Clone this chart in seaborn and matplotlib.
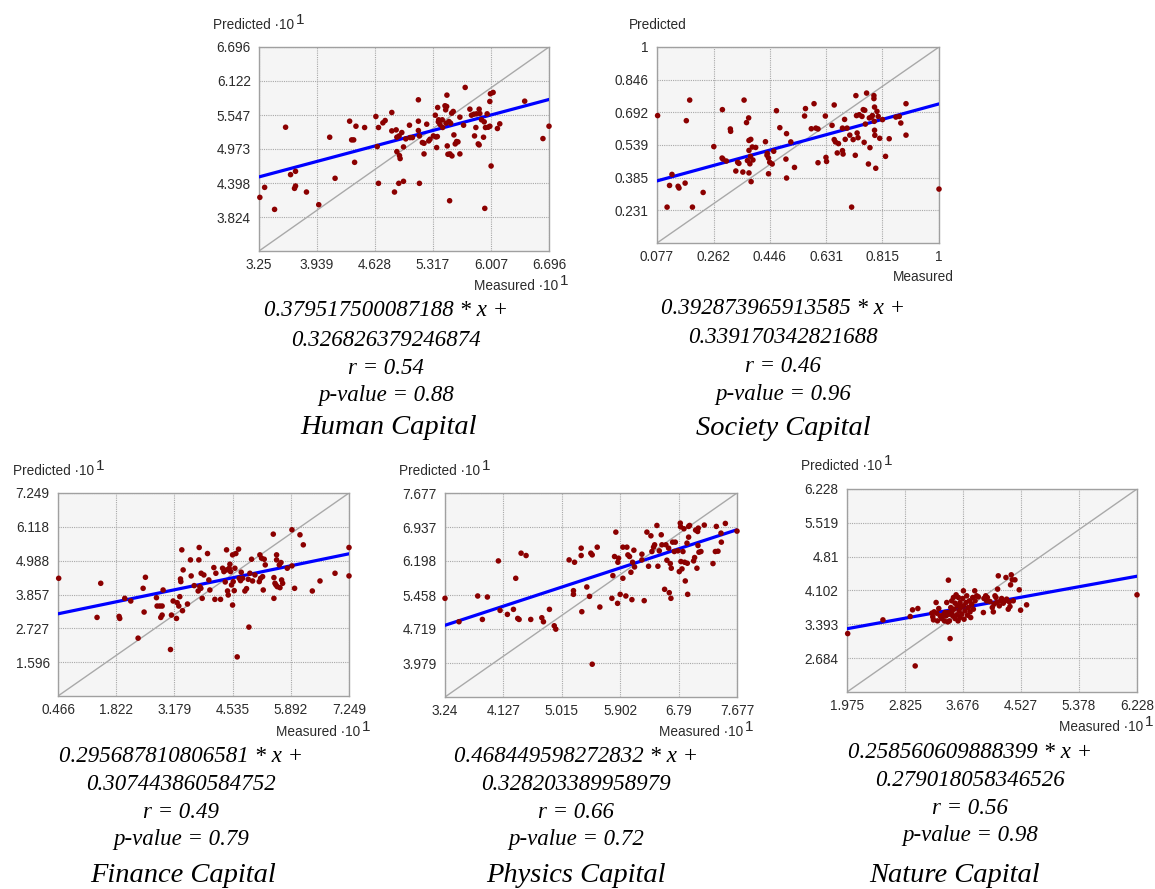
import matplotlib
matplotlib.use("Agg")
import matplotlib.pyplot as plt
import seaborn as sns
import numpy as np
import pandas as pd

# ---------------- data ----------------
panel_titles = ["Human Capital", "Society Capital", "Finance Capital",
                "Physics Capital", "Nature Capital"]
slopes = ["0.379517500087188", "0.392873965913585", "0.295687810806581",
          "0.468449598272832", "0.258560609888399"]
intercepts = ["0.326826379246874", "0.339170342821688", "0.307443860584752",
              "0.328203389958979", "0.279018058346526"]
r_values = ["0.54", "0.46", "0.49", "0.66", "0.56"]
p_values = ["0.88", "0.96", "0.79", "0.72", "0.98"]
scale_exp = [1, 0, 1, 1, 1]  # axes shown as value * 10^exp

human_xticks = ["3.25", "3.939", "4.628", "5.317", "6.007", "6.696"]
human_yticks = ["3.824", "4.398", "4.973", "5.547", "6.122", "6.696"]
society_xticks = ["0.077", "0.262", "0.446", "0.631", "0.815", "1"]
society_yticks = ["0.231", "0.385", "0.539", "0.692", "0.846", "1"]
finance_xticks = ["0.466", "1.822", "3.179", "4.535", "5.892", "7.249"]
finance_yticks = ["1.596", "2.727", "3.857", "4.988", "6.118", "7.249"]
physics_xticks = ["3.24", "4.127", "5.015", "5.902", "6.79", "7.677"]
physics_yticks = ["3.979", "4.719", "5.458", "6.198", "6.937", "7.677"]
nature_xticks = ["1.975", "2.825", "3.676", "4.527", "5.378", "6.228"]
nature_yticks = ["2.684", "3.393", "4.102", "4.81", "5.519", "6.228"]

human_points = [
    (3.26, 4.156), (3.317, 4.325), (3.435, 3.953), (3.566, 5.341), (3.625, 4.540),
    (3.684, 4.596), (3.672, 4.308), (3.684, 4.348), (3.814, 4.246), (3.96, 4.032),
    (4.09, 5.172), (4.154, 4.478), (4.327, 5.443), (4.351, 5.127), (4.375, 5.127),
    (4.386, 4.748), (4.402, 5.358), (4.505, 5.336), (4.639, 5.522), (4.655, 5.014),
    (4.67, 5.336), (4.67, 4.393), (4.722, 5.415), (4.749, 5.454), (4.828, 5.59),
    (4.828, 5.279), (4.86, 4.246), (4.88, 5.296), (4.888, 5.172), (4.888, 4.929),
    (4.911, 4.393), (4.915, 5.194), (4.919, 4.861), (4.927, 4.811), (4.947, 5.251),
    (4.967, 4.427), (4.967, 5.008), (4.994, 5.144), (5.038, 5.375), (5.045, 5.166),
    (5.073, 5.166), (5.144, 5.804), (5.144, 5.443), (5.144, 5.285), (5.156, 5.194),
    (5.156, 4.393), (5.191, 5.082), (5.211, 4.89), (5.211, 5.07), (5.243, 5.392),
    (5.267, 5.11), (5.282, 5.138), (5.322, 5.194), (5.345, 5.544), (5.353, 5.177),
    (5.361, 4.997), (5.369, 5.183), (5.373, 5.674), (5.381, 5.432), (5.385, 5.466),
    (5.401, 5.387), (5.428, 5.466), (5.432, 5.336), (5.46, 5.703), (5.468, 5.635),
    (5.472, 5.409), (5.48, 5.691), (5.483, 5.883), (5.487, 5.025), (5.495, 4.884),
    (5.507, 5.437), (5.515, 4.099), (5.519, 4.89), (5.527, 5.409), (5.539, 5.578),
    (5.543, 4.856), (5.558, 5.607), (5.566, 5.211), (5.582, 5.059), (5.598, 5.099),
    (5.614, 5.093), (5.637, 4.89), (5.637, 5.511), (5.681, 5.375), (5.7, 6.013),
    (5.756, 5.646), (5.775, 5.544), (5.803, 5.561), (5.811, 5.194), (5.827, 5.336),
    (5.835, 5.567), (5.855, 5.059), (5.866, 5.646), (5.866, 5.042), (5.874, 5.573),
    (5.894, 5.466), (5.918, 5.172), (5.926, 5.432), (5.933, 3.97), (5.941, 5.336),
    (5.961, 5.567), (5.973, 5.341), (5.993, 5.358), (5.993, 5.776), (6.0, 5.906),
    (6.008, 4.686), (6.032, 5.928), (6.083, 5.319), (6.111, 5.398), (6.407, 5.781),
    (6.624, 5.149), (6.696, 5.358),
]

society_points = [
    (0.079, 0.677), (0.110, 0.246), (0.118, 0.348), (0.126, 0.400), (0.146, 0.344),
    (0.149, 0.336), (0.169, 0.359), (0.173, 0.653), (0.184, 0.750), (0.193, 0.246),
    (0.228, 0.315), (0.263, 0.531), (0.290, 0.477), (0.291, 0.705), (0.293, 0.472),
    (0.304, 0.463), (0.317, 0.614), (0.318, 0.603), (0.335, 0.416), (0.341, 0.457),
    (0.345, 0.452), (0.358, 0.411), (0.362, 0.750), (0.370, 0.644), (0.373, 0.465),
    (0.377, 0.666), (0.378, 0.513), (0.378, 0.560), (0.378, 0.407), (0.381, 0.450),
    (0.383, 0.485), (0.384, 0.565), (0.385, 0.366), (0.389, 0.529), (0.391, 0.468),
    (0.400, 0.527), (0.432, 0.554), (0.437, 0.490), (0.438, 0.499), (0.442, 0.477),
    (0.442, 0.403), (0.446, 0.457), (0.454, 0.449), (0.459, 0.509), (0.468, 0.700),
    (0.479, 0.620), (0.499, 0.472), (0.501, 0.592), (0.501, 0.383), (0.515, 0.553),
    (0.527, 0.433), (0.560, 0.675), (0.563, 0.710), (0.582, 0.615), (0.591, 0.733),
    (0.597, 0.618), (0.604, 0.614), (0.604, 0.455), (0.628, 0.675), (0.630, 0.480),
    (0.632, 0.461), (0.650, 0.631), (0.657, 0.727), (0.657, 0.564), (0.661, 0.553),
    (0.667, 0.501), (0.671, 0.545), (0.684, 0.512), (0.684, 0.618), (0.686, 0.496),
    (0.691, 0.659), (0.693, 0.565), (0.699, 0.618), (0.708, 0.585), (0.714, 0.246),
    (0.719, 0.564), (0.726, 0.490), (0.728, 0.771), (0.730, 0.677), (0.732, 0.595),
    (0.735, 0.573), (0.739, 0.681), (0.748, 0.673), (0.752, 0.705), (0.755, 0.551),
    (0.757, 0.702), (0.759, 0.637), (0.763, 0.783), (0.769, 0.449), (0.772, 0.666),
    (0.774, 0.526), (0.779, 0.670), (0.782, 0.677), (0.787, 0.771), (0.787, 0.757),
    (0.789, 0.717), (0.788, 0.650), (0.789, 0.608), (0.790, 0.584), (0.793, 0.429),
    (0.797, 0.697), (0.801, 0.673), (0.806, 0.570), (0.815, 0.658), (0.825, 0.485),
    (0.837, 0.568), (0.859, 0.670), (0.870, 0.673), (0.875, 0.642), (0.892, 0.733),
    (0.892, 0.585), (1.0, 0.331),
]

finance_points = [
    (0.482, 4.399), (1.376, 3.092), (1.462, 4.232), (1.890, 3.125), (1.905, 3.058),
    (2.022, 3.729), (2.162, 3.640), (2.333, 2.399), (2.450, 4.064), (2.473, 3.271),
    (2.504, 4.433), (2.761, 3.751), (2.776, 3.472), (2.839, 3.472), (2.862, 3.092),
    (2.893, 3.170), (2.916, 4.008), (2.893, 3.472), (3.088, 2.019), (3.111, 3.170),
    (3.150, 3.640), (3.228, 3.058), (3.243, 3.584), (3.282, 3.472), (3.305, 3.785),
    (3.321, 4.377), (3.329, 4.288), (3.352, 5.349), (3.368, 3.316), (3.383, 4.679),
    (3.484, 3.539), (3.554, 5.014), (3.570, 4.478), (3.640, 4.154), (3.749, 5.014),
    (3.757, 5.428), (3.733, 3.975), (3.772, 4.120), (3.796, 4.064), (3.803, 4.567),
    (3.827, 3.729), (3.866, 4.511), (3.951, 5.226), (3.982, 4.344), (4.006, 4.008),
    (4.099, 4.757), (4.123, 3.695), (4.146, 4.567), (4.255, 3.695), (4.302, 4.735),
    (4.333, 4.623), (4.364, 4.276), (4.395, 5.349), (4.395, 4.679), (4.418, 3.975),
    (4.434, 3.841), (4.457, 4.735), (4.473, 4.869), (4.488, 4.623), (4.511, 4.176),
    (4.535, 5.182), (4.535, 3.505), (4.550, 4.288), (4.574, 3.986), (4.589, 4.735),
    (4.612, 5.226), (4.643, 1.773), (4.675, 5.372), (4.690, 4.399), (4.721, 4.321),
    (4.737, 4.601), (4.768, 4.399), (4.822, 3.975), (4.861, 4.053), (4.900, 4.366),
    (4.916, 2.768), (4.939, 4.567), (4.978, 5.036), (5.001, 4.310), (5.056, 4.511),
    (5.157, 4.288), (5.172, 5.182), (5.188, 4.399), (5.211, 5.070), (5.235, 4.455),
    (5.250, 4.008), (5.273, 5.036), (5.297, 4.847), (5.484, 5.874), (5.499, 4.422),
    (5.499, 3.729), (5.523, 4.232), (5.546, 4.176), (5.561, 5.182), (5.561, 5.014),
    (5.577, 4.120), (5.624, 4.847), (5.640, 4.086), (5.663, 4.925), (5.678, 4.344),
    (5.702, 4.232), (5.810, 4.735), (5.919, 4.813), (5.919, 6.020), (5.981, 4.064),
    (6.106, 5.852), (6.184, 5.517), (6.394, 3.975), (6.573, 4.310), (6.923, 4.567),
    (7.249, 5.428), (7.249, 4.478),
]

physics_points = [
    (3.240, 5.386), (3.453, 4.877), (3.737, 5.437), (3.808, 4.927), (3.884, 5.415),
    (4.051, 6.200), (4.077, 5.124), (4.188, 5.037), (4.280, 5.146), (4.315, 5.822),
    (4.345, 4.949), (4.366, 4.927), (4.396, 6.368), (4.472, 6.317), (4.543, 4.927),
    (4.711, 4.964), (4.736, 4.877), (4.827, 5.146), (4.900, 4.789), (4.924, 4.716),
    (5.126, 6.222), (5.192, 5.553), (5.192, 5.473), (5.208, 6.171), (5.309, 6.477),
    (5.309, 6.317), (5.319, 5.095), (5.395, 5.633), (5.436, 5.429), (5.456, 6.368),
    (5.477, 6.331), (5.477, 3.953), (5.553, 6.499), (5.593, 5.197), (5.776, 5.386),
    (5.791, 5.880), (5.816, 6.295), (5.836, 6.826), (5.862, 5.277), (5.867, 6.171),
    (5.877, 6.259), (5.902, 5.473), (5.943, 5.822), (5.943, 6.499), (5.988, 5.437),
    (6.004, 6.499), (6.019, 6.331), (6.044, 6.295), (6.065, 5.953), (6.080, 5.357),
    (6.090, 6.171), (6.110, 6.433), (6.120, 6.069), (6.232, 6.346), (6.232, 6.222),
    (6.267, 5.335), (6.308, 6.826), (6.333, 6.084), (6.369, 6.746), (6.384, 6.404),
    (6.409, 6.499), (6.425, 6.550), (6.460, 6.971), (6.475, 6.084), (6.496, 6.419),
    (6.526, 6.768), (6.536, 6.550), (6.577, 5.582), (6.597, 6.550), (6.612, 6.215),
    (6.638, 6.477), (6.648, 5.509), (6.663, 6.142), (6.673, 5.386), (6.678, 6.041),
    (6.699, 6.608), (6.724, 6.404), (6.739, 6.608), (6.780, 6.419), (6.800, 5.968),
    (6.815, 7.022), (6.820, 6.942), (6.825, 6.186), (6.841, 6.026), (6.856, 6.404),
    (6.871, 6.899), (6.881, 6.171), (6.891, 5.764), (6.917, 6.586), (6.922, 6.149),
    (6.927, 5.473), (6.942, 6.950), (6.942, 6.717), (6.957, 6.971), (7.018, 6.200),
    (7.033, 6.273), (7.048, 6.870), (7.068, 6.041), (7.079, 6.840), (7.084, 6.535),
    (7.089, 6.913), (7.099, 6.389), (7.129, 6.404), (7.180, 6.979), (7.312, 6.142),
    (7.348, 6.404), (7.363, 6.950), (7.388, 6.411), (7.434, 6.804), (7.439, 6.608),
    (7.500, 7.015), (7.677, 6.848),
]

nature_points = [
    (1.985, 3.199), (2.502, 3.486), (2.902, 3.556), (2.936, 3.696), (2.975, 2.521),
    (3.014, 3.724), (3.219, 3.626), (3.233, 3.549), (3.243, 3.486), (3.253, 3.654),
    (3.282, 3.850), (3.292, 3.626), (3.302, 3.465), (3.321, 3.724), (3.341, 3.570),
    (3.365, 3.514), (3.389, 3.591), (3.404, 3.465), (3.414, 3.640), (3.428, 3.570),
    (3.438, 3.850), (3.453, 3.444), (3.462, 4.318), (3.462, 3.640), (3.472, 3.605),
    (3.477, 3.465), (3.487, 3.094), (3.497, 3.745), (3.511, 3.640), (3.511, 3.885),
    (3.526, 3.570), (3.536, 3.955), (3.545, 3.710), (3.560, 3.836), (3.560, 3.514),
    (3.575, 4.011), (3.584, 3.591), (3.594, 3.780), (3.604, 3.465), (3.609, 3.955),
    (3.619, 3.675), (3.633, 3.850), (3.633, 3.535), (3.643, 3.745), (3.658, 3.605),
    (3.672, 3.934), (3.682, 4.095), (3.682, 3.780), (3.692, 3.500), (3.706, 3.675),
    (3.721, 3.850), (3.731, 3.990), (3.741, 3.584), (3.755, 3.745), (3.770, 3.885),
    (3.780, 3.654), (3.789, 3.535), (3.804, 3.815), (3.819, 3.955), (3.828, 3.710),
    (3.848, 4.095), (3.853, 3.885), (3.877, 3.990), (3.901, 3.969), (3.975, 3.640),
    (3.984, 3.934), (4.009, 3.990), (4.023, 3.885), (4.033, 3.955), (4.072, 3.871),
    (4.106, 3.745), (4.121, 3.654), (4.131, 3.815), (4.145, 3.990), (4.160, 3.955),
    (4.170, 3.850), (4.184, 4.130), (4.194, 4.409), (4.209, 3.780), (4.228, 3.885),
    (4.243, 3.934), (4.267, 3.836), (4.292, 3.885), (4.306, 4.374), (4.316, 3.920),
    (4.340, 3.710), (4.355, 3.864), (4.365, 3.766), (4.374, 4.220), (4.384, 4.430),
    (4.399, 4.325), (4.413, 3.885), (4.438, 4.325), (4.501, 4.116), (4.521, 3.689),
    (4.609, 3.801), (6.228, 4.011),
]

all_points = [human_points, society_points, finance_points, physics_points, nature_points]
all_xticks = [human_xticks, society_xticks, finance_xticks, physics_xticks, nature_xticks]
all_yticks = [human_yticks, society_yticks, finance_yticks, physics_yticks, nature_yticks]

# ---------------- layout (pixel boxes: left, top, right, bottom) ----------------
W, H = 1155, 889
boxes = [(259, 47, 549, 251), (657, 47, 939, 243), (58, 493, 349, 696),
         (445, 493, 737, 697), (847, 489, 1137, 692)]
pred_off = [(-46, 22), (-28, 22), (-45, 22), (-46, 22), (-46, 23)]
meas_off = [(9, -35), (15, -34), (11, -36), (6, -35), (6, -35)]
text_cx = [386, 783, 181, 576, 970]
title_cx = [389, 783, 183, 576, 955]
text_y = [[311, 340, 368, 396, 428], [309, 338, 366, 394, 429],
          [757, 785, 812, 840, 876], [757, 785, 812, 840, 876],
          [752, 780, 808, 836, 876]]

sns.set_style("white")
plt.rcParams["font.family"] = ["Liberation Sans", "DejaVu Sans"]

fig = plt.figure(figsize=(W / 100, H / 100), dpi=100)
fig.patch.set_facecolor("white")
tick_color = "#2b2b2b"
lab_fs = 9.8

for i in range(5):
    l, t, r, b = boxes[i]
    ax = fig.add_axes([l / W, 1 - b / H, (r - l) / W, (b - t) / H])
    ax.set_facecolor("#f5f5f5")
    xt = [float(v) for v in all_xticks[i]]
    yt = [float(v) for v in all_yticks[i]]
    lo, hi = xt[0], xt[-1]
    df = pd.DataFrame(all_points[i], columns=["Measured", "Predicted"])

    # identity line
    sns.lineplot(x=[lo, hi], y=[lo, hi], color="#a9a9a9", linewidth=1.0, ax=ax,
                 legend=False, zorder=2)
    # regression line (display units)
    sc = 10 ** scale_exp[i]
    a = float(slopes[i])
    c = float(intercepts[i]) * sc
    lx = np.array([lo, hi])
    sns.lineplot(x=lx, y=a * lx + c, color="#0000ff", linewidth=2.3, ax=ax,
                 legend=False, zorder=3)
    sns.scatterplot(data=df, x="Measured", y="Predicted", color="#8b0000", s=16,
                    edgecolor="none", linewidth=0, ax=ax, zorder=4, clip_on=False,
                    legend=False)

    ax.set_xlim(lo, hi)
    ax.set_ylim(lo, hi)
    ax.set_xticks(xt)
    ax.set_xticklabels(all_xticks[i])
    ax.set_yticks(yt)
    ax.set_yticklabels(all_yticks[i])
    ax.tick_params(axis="both", length=0, labelsize=lab_fs, colors=tick_color)
    ax.tick_params(axis="x", pad=5)
    ax.tick_params(axis="y", pad=6)
    ax.grid(True, linestyle=(0, (1, 1)), color="#a8a8a8", linewidth=0.8)
    ax.set_axisbelow(True)
    for s in ax.spines.values():
        s.set_visible(True)
        s.set_color("#a0a0a0")
        s.set_linewidth(1.0)
    ax.set_xlabel("")
    ax.set_ylabel("")

    suffix = " \u00b710" if scale_exp[i] else ""
    # Predicted label
    px = l + pred_off[i][0]
    py = t - pred_off[i][1]
    tp = fig.text(px / W, 1 - py / H, "Predicted" + suffix, ha="left", va="center",
                  fontsize=lab_fs, color=tick_color)
    # Measured label
    mx = r + meas_off[i][0]
    my = b - meas_off[i][1]
    tm = fig.text(mx / W, 1 - my / H, "Measured" + suffix, ha="right", va="center",
                  fontsize=lab_fs, color=tick_color)
    if scale_exp[i]:
        fig.canvas.draw()
        for tt, yy in ((tp, py), (tm, my)):
            ext = tt.get_window_extent()
            fig.text((ext.x1 + 2) / W, 1 - (yy - 5) / H, str(scale_exp[i]),
                     ha="left", va="center", fontsize=11, color=tick_color)

    # equation text
    lines = [f"{slopes[i]} * x +", intercepts[i], f"r = {r_values[i]}",
             f"p-value = {p_values[i]}"]
    for k, s in enumerate(lines):
        fig.text(text_cx[i] / W, 1 - text_y[i][k] / H, s, ha="center", va="center",
                 fontsize=16.5, style="italic", family="Liberation Serif", color="black")
    fig.text(title_cx[i] / W, 1 - text_y[i][4] / H, panel_titles[i], ha="center",
             va="center", fontsize=20.5, style="italic", family="Liberation Serif",
             color="black")

fig.savefig("out.png", dpi=100)
